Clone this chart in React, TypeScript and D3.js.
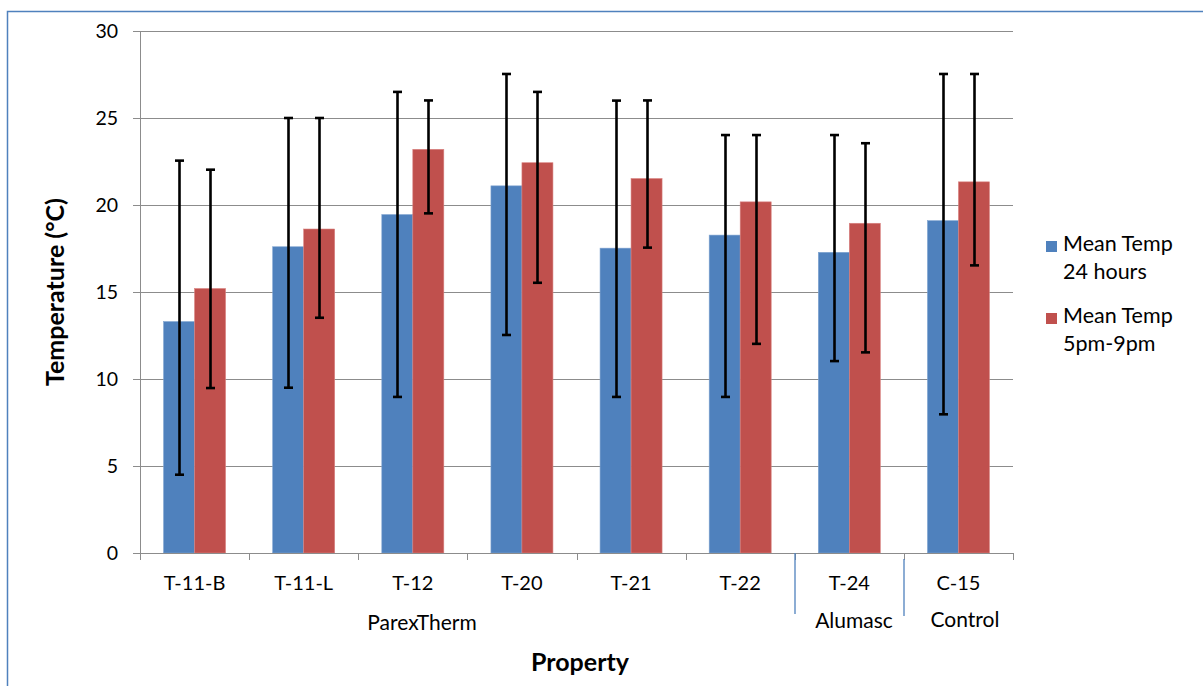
import React from "react";
import * as d3 from "d3";

const categories = ["T-11-B", "T-11-L", "T-12", "T-20", "T-21", "T-22", "T-24", "C-15"];
const seriesNames = ["Mean Temp\n24 hours", "Mean Temp\n5pm-9pm"];
const mean24 = [13.3, 17.6, 19.45, 21.1, 17.52, 18.27, 17.28, 19.1];
const mean24Low = [4.5, 9.5, 8.97, 12.53, 8.97, 8.97, 11.03, 7.97];
const mean24High = [22.55, 25.0, 26.5, 27.53, 26.0, 24.02, 24.02, 27.53];
const meanEve = [15.2, 18.62, 23.2, 22.43, 21.52, 20.18, 18.95, 21.33];
const meanEveLow = [9.48, 13.52, 19.52, 15.53, 17.55, 12.02, 11.53, 16.53];
const meanEveHigh = [22.03, 25.0, 26.01, 26.5, 26.01, 24.02, 23.55, 27.53];
const yTicks = [0, 5, 10, 15, 20, 25, 30];
const groups = [
  { label: "ParexTherm", from: 0, to: 5 },
  { label: "Alumasc", from: 6, to: 6 },
  { label: "Control", from: 7, to: 7 },
];

const colors = ["#4F81BD", "#C0504D"];
const FONT = "Lato, 'Open Sans', sans-serif";

export default function App() {
  const W = 1203, H = 686;
  const left = 140, right = 1013, top = 31, bottom = 553;
  const y = d3.scaleLinear().domain([0, 30]).range([bottom, top]);
  const x = d3.scaleBand<string>().domain(categories).range([left, right]).paddingInner(0).paddingOuter(0);
  const bw = x.bandwidth();
  const barW = 31;
  const sub = d3.scaleBand<number>().domain([0, 1]).range([bw / 2 - barW, bw / 2 + barW]);

  const series = [
    { vals: mean24, lo: mean24Low, hi: mean24High },
    { vals: meanEve, lo: meanEveLow, hi: meanEveHigh },
  ];

  const boundaries = d3.range(categories.length + 1).map((i) => left + i * bw);
  const groupX = [422, 854, 965];
  const groupY = [622, 620, 619];

  return (
    <svg width={W} height={H} style={{ position: "absolute", left: 0, top: 0, background: "#fff" }} fontFamily={FONT}>
      <rect x={0} y={0} width={W} height={H} fill="#fff" />
      {/* frame */}
      <path d={`M7.5,${H + 5} V11.5 H${W + 5}`} fill="none" stroke="#4F81BD" strokeWidth={1.5} />
      {/* gridlines */}
      {yTicks.map((t) => (
        <g key={t}>
          {t > 0 && <line x1={left} x2={right} y1={Math.round(y(t)) + 0.5} y2={Math.round(y(t)) + 0.5} stroke="#8c8c8c" strokeWidth={1} />}
          <line x1={left - 7} x2={left} y1={Math.round(y(t)) + 0.5} y2={Math.round(y(t)) + 0.5} stroke="#8c8c8c" strokeWidth={1} />
          <text x={118} y={y(t)} dy="0.36em" textAnchor="end" fontSize={19.5} fill="#000">{t}</text>
        </g>
      ))}
      {/* bars */}
      {series.map((s, si) =>
        categories.map((c, i) => {
          const bx = (x(c) as number) + (sub(si) as number);
          return (
            <rect key={`${si}-${i}`} x={bx} y={y(s.vals[i])} width={sub.bandwidth()} height={y(0) - y(s.vals[i])}
              fill={colors[si]} stroke={si === 0 ? "#7fa3d0" : "#d98280"} strokeWidth={0.6} />
          );
        })
      )}
      {/* error bars */}
      {series.map((s, si) =>
        categories.map((c, i) => {
          const cx = Math.round((x(c) as number) + (sub(si) as number) + sub.bandwidth() / 2) + 0.5;
          return (
            <g key={`e${si}-${i}`} stroke="#000" strokeWidth={2.6}>
              <line x1={cx} x2={cx} y1={y(s.hi[i])} y2={y(s.lo[i])} />
              <line x1={cx - 4.5} x2={cx + 4.5} y1={y(s.hi[i])} y2={y(s.hi[i])} />
              <line x1={cx - 4.5} x2={cx + 4.5} y1={y(s.lo[i])} y2={y(s.lo[i])} />
            </g>
          );
        })
      )}
      {/* axes */}
      <line x1={left + 0.5} x2={left + 0.5} y1={top} y2={bottom + 7} stroke="#8c8c8c" strokeWidth={1} />
      <line x1={left} x2={right} y1={bottom + 0.5} y2={bottom + 0.5} stroke="#8c8c8c" strokeWidth={1} />
      {boundaries.map((b, i) => (
        <line key={i} x1={Math.round(b) + 0.5} x2={Math.round(b) + 0.5} y1={bottom} y2={bottom + 7} stroke="#8c8c8c" strokeWidth={1} />
      ))}
      {/* group separators */}
      <line x1={795} x2={795} y1={bottom} y2={614} stroke="#4F81BD" strokeWidth={1.3} />
      <line x1={904} x2={904} y1={559} y2={616} stroke="#4F81BD" strokeWidth={1.3} />
      {categories.map((c) => (
        <text key={c} x={(x(c) as number) + bw / 2} y={583} dy="0.36em" textAnchor="middle" fontSize={20} fill="#000">{c}</text>
      ))}
      {groups.map((g, gi) => (
        <text key={g.label} x={groupX[gi]} y={groupY[gi]} dy="0.36em" textAnchor="middle" fontSize={21} fill="#000">{g.label}</text>
      ))}
      {/* axis titles */}
      <text transform={`translate(64,${(top + bottom) / 2}) rotate(-90)`} textAnchor="middle" fontSize={25} fontWeight="bold" fill="#000">Temperature (°C)</text>
      <text x={580} y={662} dy="0.36em" textAnchor="middle" fontSize={25} fontWeight="bold" fill="#000">Property</text>
      {/* legend */}
      {seriesNames.map((n, i) => {
        const ly = 241 + i * 72;
        const lines = n.split("\n");
        return (
          <g key={n}>
            <rect x={1046} y={ly} width={11} height={11} fill={colors[i]} />
            {lines.map((l, li) => (
              <text key={li} x={1063} y={ly + 10 + li * 28} fontSize={21.5} fill="#000">{l}</text>
            ))}
          </g>
        );
      })}
    </svg>
  );
}
